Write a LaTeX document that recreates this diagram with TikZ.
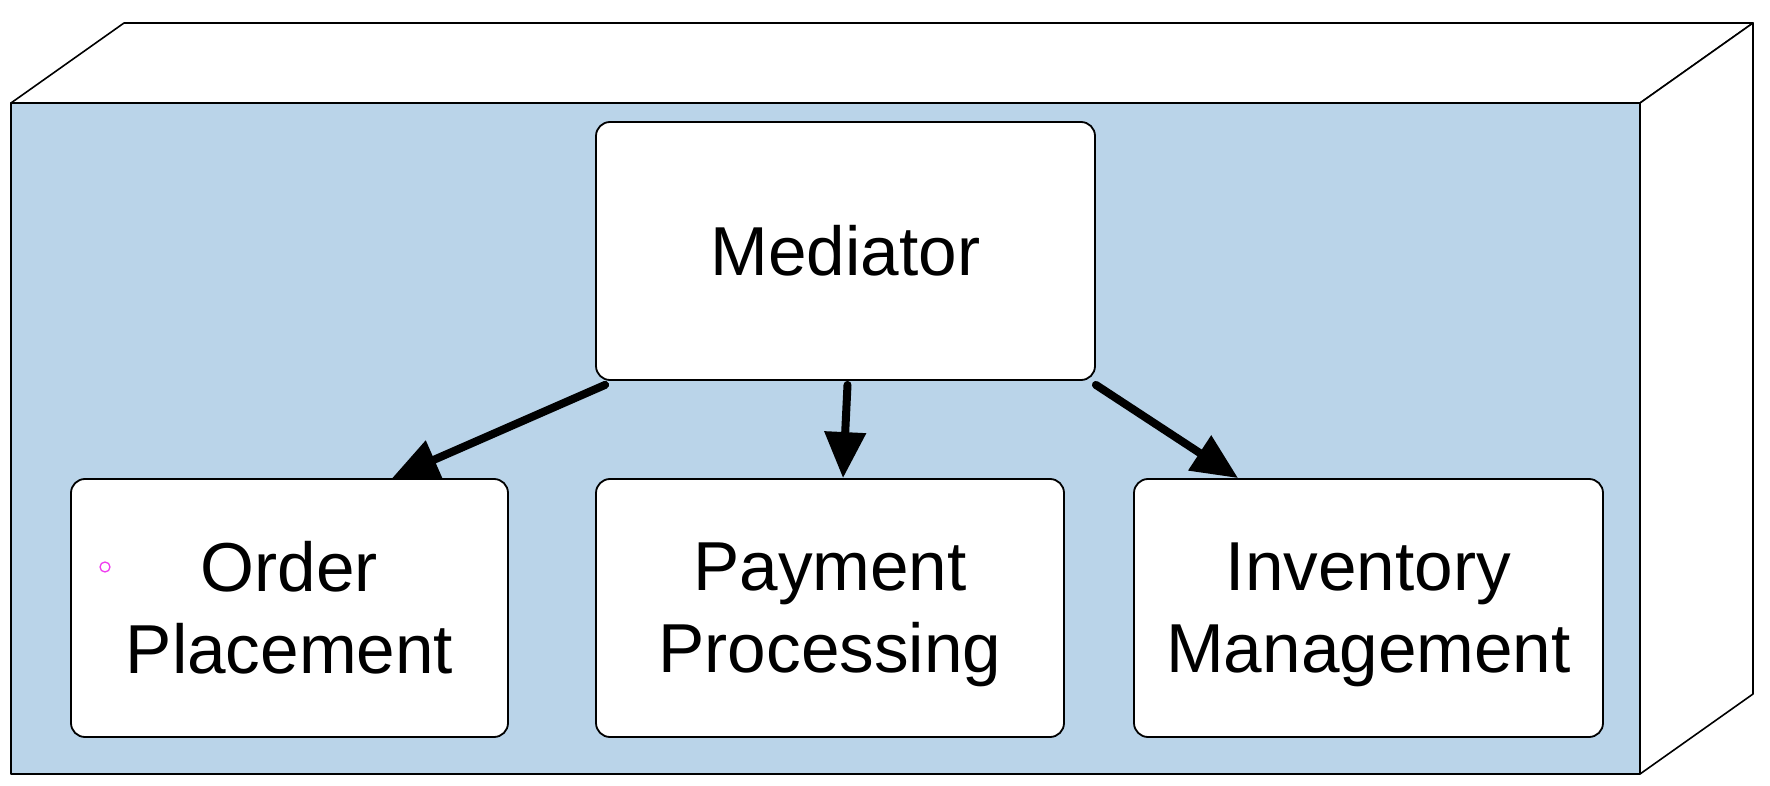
\documentclass[tikz,border=0pt]{standalone}
\usepackage{fontspec}
\setmainfont{Liberation Sans}
\usetikzlibrary{arrows.meta,calc}
\definecolor{faceblue}{RGB}{186,212,233}
\definecolor{dotpink}{RGB}{240,60,240}
\newcommand{\nodesc}[1]{\raisebox{0pt}[\height][0pt]{#1}}
\begin{document}
\begin{tikzpicture}[x=1pt,y=-1pt,
  box/.style={draw=black, line width=1.8pt, fill=white, rounded corners=14pt,
    align=center, font=\fontsize{69.3}{82}\selectfont, inner sep=0pt, minimum height=258pt},
  flow/.style={line width=8pt, line cap=round, -{Triangle[length=46pt,width=40pt]}},
  edgeline/.style={line width=1.6pt, line join=round}]
\useasboundingbox (0,0) rectangle (1770,786);
% 3D box
\coordinate (f1) at (11,103);
\coordinate (f2) at (1640,103);
\coordinate (f3) at (1640,774);
\coordinate (f4) at (11,774);
\coordinate (b1) at (124,23);
\coordinate (b2) at (1753,23);
\coordinate (b3) at (1753,694);
\filldraw[fill=white, edgeline] (f1) -- (b1) -- (b2) -- (f2) -- cycle;
\filldraw[fill=white, edgeline] (f2) -- (b2) -- (b3) -- (f3) -- cycle;
\filldraw[fill=faceblue, edgeline, line width=2pt] (f1) rectangle (f3);
% nodes
\node[box, minimum width=499pt] (med) at (845.5,251) {Mediator};
\node[box, minimum width=437pt] (op) at (289.5,608) {Order\\Placement};
\node[box, minimum width=468pt] (pay) at (830,608) {Payment\\\nodesc{Processing}};
\node[box, minimum width=469pt] (inv) at (1368.5,608) {Inventory\\\nodesc{Management}};
\node[circle, draw=dotpink, line width=1.3pt, minimum size=10pt, inner sep=0pt] (dot) at (105,567) {};
% connectors
\draw[flow] ($(med.south west)+(10,4)$) -- ($(op.north west)+(322,0)$);
\draw[flow] ($(med.south)+(2,4)$) -- ($(pay.north)+(13,0)$);
\draw[flow] ($(med.south east)+(0,4)$) -- ($(inv.north west)+(105,0)$);
\end{tikzpicture}
\end{document}
